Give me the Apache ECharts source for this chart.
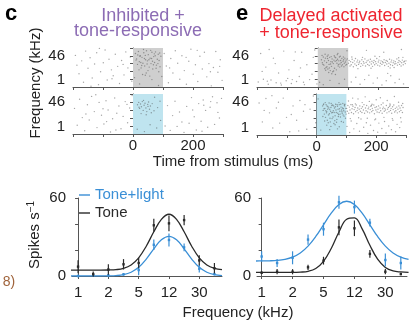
<!DOCTYPE html>
<html>
<head>
<meta charset="utf-8">
<script src="https://cdn.jsdelivr.net/npm/echarts@6/dist/echarts.min.js"></script>
<style>
html,body{margin:0;padding:0;background:#fff;}
#chart{width:409px;height:322px;}
</style>
</head>
<body>
<div id="chart"></div>
<script>
var FONT = '"Liberation Sans", Arial, sans-serif';

// ---- raster spikes: [time from stimulus (ms), frequency row 0..10] ----
var cTopBackground = [[-192,8.1],[-180,3.4],[-171,6.7],[-165,1.2],[-158,9.2],[-150,4.8],[-143,7.5],[-136,2.3],[-128,5.9],[-121,8.8],[-115,0.6],[-108,3.9],[-99,6.2],[-93,9.5],[-86,1.8],[-80,7.1],[-72,4.4],[-66,2.9],[-59,8.4],[-51,5.3],[-45,0.9],[-38,6.8],[-30,3.1],[-24,9.0],[-17,4.9],[-9,7.7],[-4,1.5],[5,2.4],[22,0.8],[41,3.0],[63,1.9],[85,0.4],[96,2.7],[104,8.6],[111,5.4],[118,1.1],[126,7.3],[133,3.6],[141,9.3],[149,6.1],[156,2.0],[163,8.0],[171,4.2],[178,0.7],[186,6.6],[193,9.7],[201,3.3],[208,5.7],[216,1.4],[223,7.9],[231,4.6],[238,8.9],[246,2.6],[253,6.0],[261,0.3],[268,5.0],[276,9.1],[283,3.8],[291,7.0],[297,1.7],[-187,5.6],[-140,0.2],[-112,9.9],[-70,2.1],[-33,5.8],[122,4.9],[177,7.6],[214,9.4],[258,3.9],[289,5.3]];
var cTopCluster = [[8,8.6],[12,7.2],[15,5.8],[18,9.1],[21,6.5],[24,8.0],[27,4.9],[30,7.6],[33,6.1],[36,8.8],[39,5.4],[42,7.0],[45,9.3],[48,6.7],[51,8.3],[54,5.1],[57,7.4],[60,6.0],[63,8.9],[66,4.6],[69,7.8],[72,6.3],[75,9.0],[78,5.6],[81,7.1],[84,8.4],[87,6.8],[90,5.2],[93,7.9],[10,6.9],[16,8.2],[23,7.9],[29,5.5],[35,9.6],[41,8.1],[47,5.9],[53,7.0],[59,9.4],[65,6.6],[71,8.5],[77,4.8],[83,6.0],[89,8.7],[26,6.3],[38,7.3],[50,4.2],[62,7.3],[74,8.0],[86,3.9],[20,4.4],[44,3.6],[68,5.7],[56,2.8],[32,3.2]];

var cBottomBackground = [[-195,6.4],[-186,2.2],[-178,8.7],[-169,4.1],[-161,0.8],[-152,7.3],[-146,3.5],[-138,9.4],[-129,5.6],[-120,1.6],[-113,7.9],[-105,4.7],[-97,2.5],[-90,8.3],[-83,6.0],[-75,0.5],[-68,3.8],[-61,9.0],[-54,5.2],[-47,7.0],[-40,1.3],[-33,4.4],[-26,8.1],[-18,2.8],[-11,6.5],[-3,9.6],[-157,5.0],[-124,9.8],[-88,3.1],[-57,1.0],[-20,7.4],[-100,6.3],[14,1.2],[38,0.6],[57,2.3],[79,1.5],[92,3.4],[72,9.2],[107,2.0],[115,7.1],[124,0.9],[132,4.6],[140,8.2],[147,1.9],[155,5.5],[163,3.0],[170,0.4],[179,6.9],[187,2.7],[195,9.1],[204,4.3],[211,1.0],[219,7.6],[227,3.2],[234,8.5],[242,5.9],[249,1.7],[257,6.7],[265,9.3],[272,2.4],[280,7.8],[288,4.0],[295,8.9],[236,7.2],[259,8.1],[283,5.4],[199,6.0],[230,0.7]];
var cBottomCluster = [[15,7.3],[19,7.9],[22,6.4],[25,7.5],[28,6.8],[31,8.1],[34,5.9],[37,7.2],[40,7.7],[43,6.5],[46,5.6],[49,7.4],[52,8.0],[55,6.2],[58,7.0],[61,5.3],[27,5.1],[35,8.4],[44,4.8],[64,7.6],[70,5.8],[82,6.6],[90,8.2],[20,6.7],[50,6.9]];

var eTopBackground = [[-196,1.3],[-188,8.6],[-179,2.0],[-171,5.1],[-163,0.7],[-154,1.8],[-146,7.4],[-137,1.1],[-129,3.6],[-120,0.5],[-112,9.2],[-104,1.6],[-95,4.4],[-87,0.9],[-78,6.8],[-70,1.4],[-61,2.7],[-53,8.9],[-44,0.6],[-36,5.7],[-27,1.9],[-19,3.3],[-10,9.5],[-3,0.8],[-183,4.0],[-140,6.0],[-99,2.2],[-57,4.9],[-15,7.6],[-160,9.6],[-74,9.0],[6,1.2],[18,0.6],[40,1.7],[70,0.9],[88,2.0],[96,9.3],[110,1.3],[125,2.5],[139,0.7],[154,1.9],[168,3.0],[182,1.0],[196,2.3],[211,0.5],[225,1.6],[240,2.9],[254,1.1],[268,2.0],[282,0.8],[160,9.4],[217,8.9],[275,9.6],[-122,1.0],[-47,1.2],[-166,1.5],[-84,1.9],[230,3.5]];
var eTopCluster = [[12,7.0],[15,6.2],[18,7.7],[20,5.6],[22,6.7],[25,7.4],[27,5.0],[29,6.3],[31,7.9],[33,4.6],[35,6.8],[37,5.8],[39,7.6],[41,4.2],[43,6.5],[45,5.3],[47,7.2],[49,3.9],[51,6.0],[53,6.9],[55,4.8],[57,6.6],[59,7.5],[61,4.4],[63,6.1],[65,7.1],[67,5.4],[69,6.7],[71,7.7],[73,5.9],[75,6.8],[77,6.3],[79,7.3],[81,5.7],[83,6.6],[85,7.0],[87,6.1],[89,7.4],[91,6.4],[93,6.9],[95,5.8],[97,7.2],[14,8.1],[24,8.4],[34,8.2],[44,7.8],[54,8.0],[64,8.3],[74,7.9],[84,7.7],[26,4.3],[36,3.7],[46,3.4],[38,4.9],[30,5.2],[52,4.1],[58,3.2],[42,5.9],[48,6.4],[56,7.7],[62,6.8],[68,5.8],[72,5.1],[78,5.4],[86,5.2],[92,5.6],[17,5.8],[23,4.7],[32,7.3],[66,8.6]];
var eTopBand = [[101,6.1],[103,6.8],[106,5.4],[108,6.5],[110,5.7],[113,7.1],[115,6.3],[117,5.2],[120,6.7],[122,5.9],[124,7.3],[127,5.5],[129,6.4],[131,6.9],[134,5.8],[136,6.2],[138,6.6],[141,5.3],[143,6.0],[145,7.0],[148,5.6],[150,6.5],[152,6.1],[155,7.2],[157,5.4],[159,6.3],[162,6.7],[164,5.8],[166,6.9],[169,5.5],[171,6.4],[173,7.1],[176,5.9],[178,6.6],[180,5.3],[183,6.2],[185,6.8],[187,5.7],[190,6.5],[192,6.0],[194,7.3],[197,5.6],[199,6.4],[201,6.9],[204,5.4],[206,6.1],[208,6.7],[211,5.8],[213,6.5],[215,6.2],[218,7.0],[220,5.5],[222,6.3],[225,6.8],[227,5.9],[229,6.6],[232,5.3],[234,6.1],[236,7.1],[239,5.7],[241,6.4],[243,6.9],[246,5.5],[248,6.2],[250,6.7],[253,5.9],[255,6.5],[257,6.0],[260,7.2],[262,5.6],[264,6.3],[267,6.8],[269,5.8],[271,6.5],[274,5.4],[276,6.2],[278,6.9],[281,5.7],[283,6.4],[285,6.6],[288,6.0],[290,6.7],[112,7.7],[147,7.6],[175,4.8],[203,7.8],[238,4.9],[266,7.5],[132,4.7],[188,7.9],[251,5.0],[280,7.6]];

var eBottomBackground = [[-193,7.8],[-182,3.2],[-170,8.9],[-158,5.4],[-147,1.7],[-135,6.6],[-124,2.9],[-112,9.0],[-101,4.3],[-90,0.8],[-79,7.1],[-67,3.6],[-56,8.4],[-44,5.8],[-33,1.4],[-22,6.3],[-11,9.5],[-3,3.0],[-176,6.0],[-128,8.0],[-85,5.0],[-39,7.4],[-150,9.6],[-60,1.0],[5,8.8],[14,1.2]];
var eBottomCluster = [[20,7.1],[22,6.0],[24,7.6],[26,5.1],[28,6.5],[30,4.3],[32,7.4],[34,5.7],[36,3.6],[38,6.9],[40,4.9],[42,7.8],[44,6.2],[46,3.2],[48,6.7],[50,5.4],[52,4.0],[54,7.3],[56,5.9],[58,2.8],[60,6.6],[62,4.7],[64,7.5],[66,5.5],[68,3.8],[70,7.0],[72,6.3],[74,5.0],[76,7.4],[78,5.8],[80,4.4],[82,6.8],[84,6.1],[86,5.3],[88,7.7],[90,6.4],[92,4.6],[94,7.1],[96,5.6],[98,6.5],[21,4.5],[25,6.4],[29,7.9],[33,5.4],[37,6.3],[41,6.6],[45,4.1],[49,7.7],[53,5.5],[57,7.1],[61,3.5],[65,6.1],[69,7.4],[73,4.5],[77,6.4],[81,7.5],[85,5.7],[89,4.9],[93,7.3],[97,4.1],[23,7.4],[27,3.4],[31,5.9],[35,7.1],[39,3.0],[43,5.2],[47,5.8],[51,7.2],[55,4.4],[59,5.5],[63,6.9],[67,3.1],[71,5.3],[75,7.9],[79,5.1],[83,3.3],[87,6.6],[91,5.9],[95,7.5],[99,5.1],[34,2.4],[48,2.1],[62,2.5],[76,2.0],[90,3.1],[44,1.3],[70,1.5]];
var eBottomBand = [[101,6.5],[103,5.8],[105,7.2],[108,5.3],[110,6.8],[112,6.1],[115,7.4],[117,5.5],[119,6.4],[122,7.0],[124,5.2],[126,6.2],[129,6.7],[131,5.7],[133,7.3],[136,6.0],[138,6.6],[140,5.4],[143,6.3],[145,7.1],[147,5.8],[150,6.5],[152,5.5],[154,6.9],[157,6.1],[159,7.4],[161,5.3],[164,6.6],[166,5.9],[168,7.2],[171,5.6],[173,6.4],[175,6.8],[178,5.4],[180,6.2],[182,7.0],[185,5.7],[187,6.5],[189,6.0],[192,7.3],[194,5.2],[196,6.7],[199,6.1],[201,6.9],[203,5.6],[206,6.3],[208,7.1],[210,5.5],[213,6.6],[215,5.9],[217,7.4],[220,5.3],[222,6.4],[224,6.8],[227,5.8],[229,6.5],[231,6.1],[234,7.2],[236,5.4],[238,6.3],[241,6.7],[243,5.7],[245,7.0],[248,6.0],[250,6.5],[252,5.3],[255,6.9],[257,6.2],[259,7.3],[262,5.6],[264,6.5],[266,5.9],[269,6.8],[271,5.4],[273,6.3],[276,7.1],[278,5.7],[280,6.6],[283,6.0],[285,7.2],[288,5.5],[290,6.7]];
var eBottomLate = [[102,2.1],[107,8.3],[111,0.6],[116,3.4],[121,9.0],[125,1.5],[130,7.6],[135,2.8],[139,8.8],[144,0.9],[149,3.9],[153,7.9],[158,1.9],[163,9.3],[167,3.0],[172,0.4],[177,8.2],[181,2.4],[186,7.5],[191,1.1],[195,3.7],[200,8.6],[205,0.7],[209,2.9],[214,9.1],[219,1.6],[223,7.8],[228,3.3],[233,0.5],[237,8.4],[242,2.2],[247,7.3],[251,1.3],[256,3.6],[261,9.4],[265,0.8],[270,2.6],[275,8.0],[279,1.8],[284,3.2],[289,7.7],[113,4.0],[141,4.2],[170,4.1],[198,3.9],[226,4.3],[254,4.0],[282,4.2],[120,7.4],[184,7.2],[246,7.6]];

var stimWindow = [0, 100];
var timeTickLabels = [0, 200];
var freqRowLabels = ['1', '46'];

// ---- tuning curves ----
var tuneX = [0, 1, 2, 3, 4, 5, 6, 7, 8, 9];
var tuneTickPos = [0, 2, 4, 6, 8];
var tuneTickLabels = ['1', '2', '5', '12', '30'];

var cToneMean  = [7.2, 1.5, 5, 9, 10, 39, 40.5, 43, 12, 6];
var cToneErr   = [5, 2, 4, 4, 4, 5, 6, 4, 4, 4];
var cLightMean = [0, 0.5, 0.5, 1.3, 4.6, 24, 27.7, 22, 5.6, 1.5];
var cLightErr  = [1, 1, 1, 1, 4, 4, 5, 3, 3, 1];

var eLightMean = [15, 10, 14, 28, 36, 56.7, 53, 41, 12.3, 10];
var eLightErr  = [4, 3, 5, 4, 5, 5, 5, 3, 5, 5];
var eToneMean  = [2.5, 3.3, 3.3, 6.7, 11.8, 37.4, 36.7, 17, 3.3, 1.5];
var eToneErr   = [1, 2, 2, 2, 3, 6, 6, 3, 2, 1];

// fitted curves, at half steps
var fitX = [-0.5, 0, 0.5, 1, 1.5, 2, 2.5, 3, 3.5, 4, 4.5, 5, 5.5, 6, 6.5, 7, 7.5, 8, 8.5, 9, 9.5];
var cToneFit  = [4.5, 4.5, 4.5, 4.5, 4.5, 4.6, 4.9, 5.9, 8.5, 14.0, 22.9, 34.0, 43.6, 47.5, 43.6, 34.0, 22.9, 14.0, 8.5, 5.9, 4.9];
var cLightFit = [0, 0, 0, 0, 0, 0.1, 0.3, 1.0, 2.9, 6.7, 13.0, 20.9, 27.8, 30.5, 27.8, 20.9, 13.0, 6.7, 2.9, 1.0, 0.3];
var eToneFit  = [2.8, 2.8, 2.8, 2.8, 2.8, 2.8, 3.0, 3.6, 5.8, 11.3, 21.2, 33.9, 43.7, 44.7, 36.3, 23.6, 12.9, 6.6, 3.9, 3.1, 2.8];
var eLightFit = [11.5, 11.6, 11.7, 12.0, 12.8, 14.5, 17.7, 23.0, 30.4, 39.4, 48.3, 55.0, 57.5, 55.0, 48.3, 39.4, 30.4, 23.0, 17.7, 14.5, 12.8];

var BLUE = '#3a8fd6';
var BLACK = '#2a2a2a';
var AXIS = '#555';

var myChart = echarts.init(document.getElementById('chart'));

function rasterX(g, showLabel) {
    return {
        type: 'value', gridIndex: g, min: -200, max: 300, interval: 100,
        axisLine: { lineStyle: { color: AXIS, width: 1 } },
        axisTick: { length: 3, lineStyle: { color: AXIS } },
        splitLine: { show: false },
        axisLabel: {
            show: showLabel, margin: 4, fontSize: 15, color: '#222', fontFamily: FONT,
            formatter: function (v) { return timeTickLabels.indexOf(v) >= 0 ? String(v) : ''; }
        }
    };
}
function rasterY(g) {
    return {
        type: 'value', gridIndex: g, min: 0, max: 10, interval: 2,
        axisLine: { show: true, lineStyle: { color: AXIS, width: 1 } },
        axisTick: { show: true, length: 3, lineStyle: { color: AXIS } },
        splitLine: { show: false },
        axisLabel: {
            margin: 8, fontSize: 15, color: '#222', fontFamily: FONT,
            verticalAlignMinLabel: 'bottom', verticalAlignMaxLabel: 'top',
            formatter: function (v) { return v === 0 ? freqRowLabels[0] : (v === 10 ? freqRowLabels[1] : ''); }
        }
    };
}
function tuneXAxis(g, min, max) {
    return {
        type: 'value', gridIndex: g, min: min, max: max, offset: 4,
        axisLine: { lineStyle: { color: AXIS, width: 1 } },
        axisTick: { length: 3, lineStyle: { color: AXIS }, customValues: tuneTickPos },
        splitLine: { show: false },
        axisLabel: {
            margin: 5, fontSize: 15, color: '#222', fontFamily: FONT,
            customValues: tuneTickPos,
            formatter: function (v) { return tuneTickLabels[tuneTickPos.indexOf(Math.round(v))] || ''; }
        }
    };
}
function tuneYAxis(g) {
    return {
        type: 'value', gridIndex: g, min: 0, max: 60, interval: 20,
        axisLine: { show: true, lineStyle: { color: AXIS, width: 1 } },
        axisTick: { show: true, length: 3, lineStyle: { color: AXIS } },
        splitLine: { show: false },
        axisLabel: {
            margin: 6, fontSize: 15, color: '#222', fontFamily: FONT,
            formatter: function (v) { return (v === 0 || v === 60) ? String(v) : ''; }
        }
    };
}
function spikes(g, data) {
    return {
        type: 'scatter', xAxisIndex: g, yAxisIndex: g, data: data,
        symbol: 'circle', symbolSize: 1.4, silent: true, z: 3,
        itemStyle: { color: 'rgba(70,70,70,0.6)' }
    };
}
function shade(g, color) {
    return {
        type: 'scatter', xAxisIndex: g, yAxisIndex: g, data: [], z: 1, silent: true,
        markArea: {
            silent: true, itemStyle: { color: color },
            data: [[{ xAxis: stimWindow[0] }, { xAxis: stimWindow[1] }]]
        }
    };
}
function fit(name, g, vals, color) {
    return {
        name: name, type: 'line', xAxisIndex: g, yAxisIndex: g,
        data: fitX.map(function (x, i) { return [x, vals[i]]; }),
        smooth: 0.4, symbol: 'none', clip: true,
        lineStyle: { color: color, width: 1.3 }, itemStyle: { color: color }, z: 2
    };
}
function errbars(name, g, mean, err, color) {
    return {
        name: name, type: 'custom', xAxisIndex: g, yAxisIndex: g, z: 4,
        data: tuneX.map(function (x, i) { return [x, mean[i], err[i]]; }),
        renderItem: function (params, api) {
            var x = api.value(0), v = api.value(1), e = api.value(2);
            var lo = api.coord([x, v - e]), hi = api.coord([x, v + e]), c = api.coord([x, v]);
            return {
                type: 'group', children: [
                    { type: 'line', shape: { x1: lo[0], y1: lo[1], x2: hi[0], y2: hi[1] }, style: { stroke: color, lineWidth: 1.2 } },
                    { type: 'rect', shape: { x: c[0] - 1.2, y: c[1] - 1.2, width: 2.4, height: 2.4 }, style: { fill: color } }
                ]
            };
        }
    };
}

myChart.setOption({
    animation: false,
    textStyle: { fontFamily: FONT },
    grid: [
        { left: 73, top: 48, width: 150, height: 39 },
        { left: 73, top: 94, width: 150, height: 40 },
        { left: 257, top: 48, width: 155, height: 39 },
        { left: 257, top: 94, width: 155, height: 41 },
        { left: 72, top: 198, width: 150, height: 78 },
        { left: 257, top: 198, width: 150, height: 78 }
    ],
    xAxis: [
        rasterX(0, false), rasterX(1, true), rasterX(2, false), rasterX(3, true),
        tuneXAxis(4, -0.4, 9.5), tuneXAxis(5, -0.3, 9.4)
    ],
    yAxis: [rasterY(0), rasterY(1), rasterY(2), rasterY(3), tuneYAxis(4), tuneYAxis(5)],
    legend: {
        left: 79, top: 187, orient: 'vertical', itemGap: 2, padding: 0,
        icon: 'rect', itemWidth: 11, itemHeight: 1.4,
        textStyle: { fontSize: 15, fontFamily: FONT, lineHeight: 16 },
        data: [
            { name: 'Tone+light', textStyle: { color: BLUE } },
            { name: 'Tone', textStyle: { color: BLACK } }
        ]
    },
    graphic: [
        { type: 'text', left: 5, top: 3, style: { text: 'c', font: 'bold 22px ' + FONT, fill: '#000' } },
        { type: 'text', x: 143, y: 16.5, style: { text: 'Inhibited +', fontSize: 18, fontFamily: FONT, fill: '#8c6cb4', align: 'center', verticalAlign: 'middle' } },
        { type: 'text', x: 138, y: 31.5, style: { text: 'tone-responsive', fontSize: 18, fontFamily: FONT, fill: '#8c6cb4', align: 'center', verticalAlign: 'middle' } },
        { type: 'text', left: 236, top: 3, style: { text: 'e', font: 'bold 22px ' + FONT, fill: '#000' } },
        { type: 'text', x: 331, y: 16.5, style: { text: 'Delayed activated', fontSize: 18, fontFamily: FONT, fill: '#ee2530', align: 'center', verticalAlign: 'middle' } },
        { type: 'text', x: 331, y: 33, style: { text: '+ tone-responsive', fontSize: 18, fontFamily: FONT, fill: '#ee2530', align: 'center', verticalAlign: 'middle' } },
        { type: 'text', x: 36, y: 83, rotation: Math.PI / 2, style: { text: 'Frequency (kHz)', fontSize: 15, fontFamily: FONT, fill: '#222', align: 'center', verticalAlign: 'middle' } },
        { type: 'text', x: 233, y: 161.5, style: { text: 'Time from stimulus (ms)', fontSize: 15, fontFamily: FONT, fill: '#222', align: 'center', verticalAlign: 'middle' } },
        { type: 'text', x: 35, y: 235, rotation: Math.PI / 2, style: {
            text: '{a|Spikes s}{b|\u22121}', align: 'center', verticalAlign: 'middle', fill: '#222',
            rich: { a: { fontSize: 15, fontFamily: FONT, fill: '#222', lineHeight: 17 }, b: { fontSize: 10, fontFamily: FONT, fill: '#222', verticalAlign: 'top', lineHeight: 17 } }
        } },
        { type: 'text', x: 238, y: 313, style: { text: 'Frequency (kHz)', fontSize: 15, fontFamily: FONT, fill: '#222', align: 'center', verticalAlign: 'middle' } },
        { type: 'text', x: 9, y: 282, style: { text: '8)', fontSize: 14, fontFamily: FONT, fill: '#a0643c', align: 'center', verticalAlign: 'middle' } }
    ],
    series: [
        shade(0, '#cfcfcf'), spikes(0, cTopBackground), spikes(0, cTopCluster),
        shade(1, '#bfe4ef'), spikes(1, cBottomBackground), spikes(1, cBottomCluster),
        shade(2, '#cfcfcf'), spikes(2, eTopBackground), spikes(2, eTopCluster), spikes(2, eTopBand),
        shade(3, '#bfe4ef'), spikes(3, eBottomBackground), spikes(3, eBottomCluster), spikes(3, eBottomBand), spikes(3, eBottomLate),
        fit('Tone+light', 4, cLightFit, BLUE), fit('Tone', 4, cToneFit, BLACK),
        errbars('Tone+light', 4, cLightMean, cLightErr, BLUE), errbars('Tone', 4, cToneMean, cToneErr, BLACK),
        fit('Tone+light', 5, eLightFit, BLUE), fit('Tone', 5, eToneFit, BLACK),
        errbars('Tone+light', 5, eLightMean, eLightErr, BLUE), errbars('Tone', 5, eToneMean, eToneErr, BLACK)
    ]
});
</script>
</body>
</html>
